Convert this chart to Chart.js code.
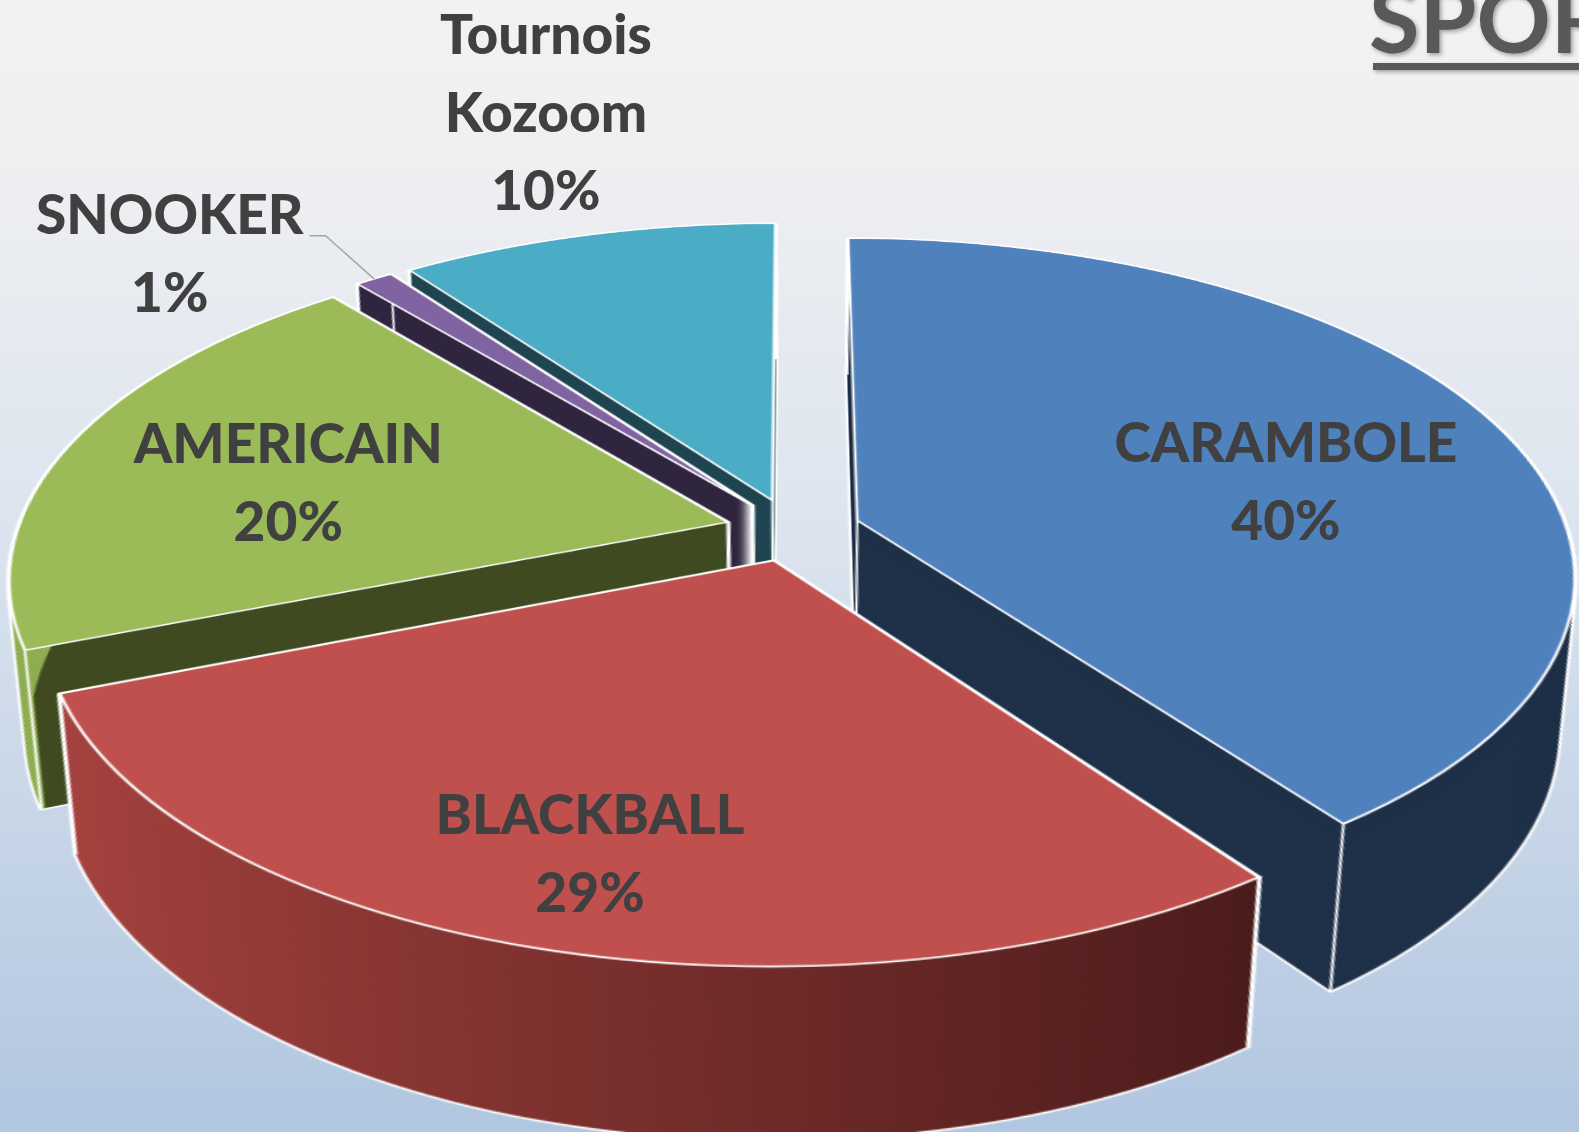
<!DOCTYPE html>
<html>
<head>
<meta charset="utf-8">
<script src="https://cdn.jsdelivr.net/npm/chart.js@4.4.1/dist/chart.umd.min.js"></script>
<style>
  html, body { margin: 0; padding: 0; width: 1579px; height: 1132px; overflow: hidden; }
  body {
    position: relative;
    background: linear-gradient(to bottom, #f2f2f2 0%, #f0f0f2 12%, #dde5ef 45%, #b1c6e0 100%);
  }
  #pie { position: absolute; left: 0; top: 0; transform-origin: 0 0; z-index: 1; }
  #labels { position: absolute; left: 0; top: 0; z-index: 2; pointer-events: none; }
</style>
</head>
<body>
<canvas id="pie" width="1000" height="1100"></canvas>
<canvas id="labels" width="1579" height="1132"></canvas>
<script>
// ---- data ----
const categories = ['CARAMBOLE', 'BLACKBALL', 'AMERICAIN', 'SNOOKER', 'Tournois\nKozoom'];
const shares = [40, 29, 20, 1, 10];
const title = 'SPORT';

// ---- look ----
const topColors  = ['#4f81bd', '#c0504d', '#9bbb59', '#8064a2', '#4bacc6'];
const sideColors = ['#1f3049', ['#a6433f', '#4a1b1b'], '#404b22', '#30253f', '#1e4550'];
const rimColors  = [null, null, '#8fae52', null, null];
const labelSpots = [
  { r: 0.63, turn: 7.5 },
  { r: 0.79, turn: 0 },
  { r: 0.645, turn: -4 },
  { r: 1.30, turn: -9.4, leader: true },
  { r: 1.54, turn: 2.7 }
];
const labelFont = '900 55px Lato, "Open Sans", sans-serif';

// tilted camera: screen = (x0, y0) + (ax*u, by*v) / (1 - k*v), u/v measured in pie radii
const VIEW = { x0: 793, y0: 530, ax: 710, by: 330, k: 0.16, foot: 4.89, wallScale: 0.912, explode: 0.0955, layers: 160 };

const midAngle = a => (a.startAngle + a.endAngle) / 2;

function project(u, v) {
  const w = 1 - VIEW.k * v;
  return [VIEW.x0 + VIEW.ax * u / w, VIEW.y0 + VIEW.by * v / w];
}

// draw an arc element with some options swapped
function drawAs(arc, ctx, opts) {
  const a = Object.create(arc);
  a.options = Object.assign({}, arc.options, opts);
  a.draw(ctx);
}

// perspective of the flat pie canvas onto the page
function placeView(chart) {
  const arc = chart.getDatasetMeta(0).data[0];
  const R = arc.outerRadius, px = arc.x, py = arc.y;
  const { x0, y0, ax, by, k } = VIEW;
  const h11 = ax / R, h12 = -x0 * k / R, h13 = x0 * (1 + k * py / R) - ax * px / R;
  const h22 = (by - y0 * k) / R, h23 = y0 * (1 + k * py / R) - by * py / R;
  const h32 = -k / R, h33 = 1 + k * py / R;
  chart.canvas.style.transform =
    `matrix3d(${h11},0,0,0,${h12},${h22},0,${h32},0,0,1,0,${h13},${h23},0,${h33})`;
}

function drawLabels(chart) {
  const cv = document.getElementById('labels');
  const ctx = cv.getContext('2d');
  ctx.clearRect(0, 0, cv.width, cv.height);

  // title, cut by the right edge
  ctx.save();
  ctx.fillStyle = '#595959';
  ctx.shadowColor = 'rgba(0,0,0,0.35)';
  ctx.shadowBlur = 4; ctx.shadowOffsetX = 2; ctx.shadowOffsetY = 2;
  ctx.font = 'bold 92px Lato, "Open Sans", sans-serif';
  ctx.textBaseline = 'alphabetic';
  ctx.fillText(title, 1369, 53);
  ctx.fillRect(1373, 63, 240, 7);
  ctx.restore();

  const arcs = chart.getDatasetMeta(0).data;
  ctx.font = labelFont;
  ctx.fillStyle = '#404040';
  ctx.textAlign = 'center';
  ctx.textBaseline = 'middle';
  const lineH = 78;
  arcs.forEach((arc, i) => {
    const m = midAngle(arc), spot = labelSpots[i];
    const a = m + spot.turn * Math.PI / 180;
    const eu = VIEW.explode * Math.cos(m), ev = VIEW.explode * Math.sin(m);
    const [lx, ly] = project(eu + spot.r * Math.cos(a), ev + spot.r * Math.sin(a));
    const lines = categories[i].split('\n').concat(shares[i] + '%');
    const y0 = ly - (lines.length - 1) * lineH / 2;
    lines.forEach((t, n) => ctx.fillText(t, lx, y0 + n * lineH));
    if (spot.leader) {
      const [tx, ty] = project(eu + Math.cos(m), ev + Math.sin(m));
      const sx = lx + ctx.measureText(lines[0]).width / 2 + 6, sy = y0 + 19;
      ctx.save();
      ctx.strokeStyle = '#a6a6a6'; ctx.lineWidth = 1.5;
      ctx.beginPath(); ctx.moveTo(sx, sy); ctx.lineTo(sx + 16, sy); ctx.lineTo(tx, ty); ctx.stroke();
      ctx.restore();
    }
  });
}

const pie3d = {
  id: 'pie3d',
  beforeDatasetsDraw(chart) {
    const ctx = chart.ctx;
    const arcs = chart.getDatasetMeta(0).data;
    const R = arcs[0].outerRadius, cx = arcs[0].x, cy = arcs[0].y;
    const fx = cx, fy = cy + VIEW.foot * R;   // lower planes shrink toward this point
    const N = VIEW.layers, s1 = VIEW.wallScale;
    const order = arcs.map((_, i) => i)
      .sort((i, j) => Math.sin(midAngle(arcs[i])) - Math.sin(midAngle(arcs[j])));

    const onLayer = (t, ox, oy, fn) => {
      const s = 1 - t * (1 - s1);
      ctx.save();
      ctx.translate(fx, fy); ctx.scale(s, s); ctx.translate(ox - fx, oy - fy);
      fn();
      ctx.restore();
    };

    order.forEach(i => {
      const arc = arcs[i], m = midAngle(arc);
      const ox = Math.cos(m) * VIEW.explode * R, oy = Math.sin(m) * VIEW.explode * R;
      let side = sideColors[i];
      if (Array.isArray(side)) {
        const g = ctx.createLinearGradient(cx - 0.95 * R, 0, cx + 0.62 * R, 0);
        g.addColorStop(0, side[0]); g.addColorStop(1, side[1]);
        side = g;
      }
      // white rim around the body, then the body itself
      for (let n = N; n >= 0; n--)
        onLayer(n / N, ox, oy, () => drawAs(arc, ctx, { backgroundColor: 'rgba(0,0,0,0)', borderColor: '#ffffff', borderWidth: 3.2, borderJoinStyle: 'round' }));
      for (let n = N; n >= 0; n--)
        onLayer(n / N, ox, oy, () => drawAs(arc, ctx, { backgroundColor: side, borderWidth: 0 }));
      if (rimColors[i]) {
        ctx.save();
        ctx.strokeStyle = rimColors[i]; ctx.lineWidth = 2;
        for (let n = N; n >= 0; n--)
          onLayer(n / N, ox, oy, () => { ctx.beginPath(); ctx.arc(arc.x, arc.y, R - 1, arc.startAngle, arc.endAngle); ctx.stroke(); });
        ctx.restore();
      }
      // vertical edges
      const ax = arc.x + ox, ay = arc.y + oy;
      ctx.save();
      ctx.strokeStyle = '#ffffff'; ctx.lineWidth = 1.3;
      [[ax, ay],
       [ax + R * Math.cos(arc.startAngle), ay + R * Math.sin(arc.startAngle)],
       [ax + R * Math.cos(arc.endAngle), ay + R * Math.sin(arc.endAngle)]].forEach(([x, y]) => {
        ctx.beginPath(); ctx.moveTo(x, y); ctx.lineTo(fx + s1 * (x - fx), fy + s1 * (y - fy)); ctx.stroke();
      });
      ctx.restore();
    });

    // top faces
    arcs.forEach(arc => {
      const m = midAngle(arc);
      ctx.save();
      ctx.translate(Math.cos(m) * VIEW.explode * R, Math.sin(m) * VIEW.explode * R);
      arc.draw(ctx);
      ctx.restore();
    });
    return false;
  },
  afterDraw(chart) {
    placeView(chart);
    drawLabels(chart);
  }
};

new Chart(document.getElementById('pie'), {
  type: 'pie',
  data: {
    labels: categories,
    datasets: [{
      data: shares,
      backgroundColor: topColors,
      borderColor: '#ffffff',
      borderWidth: 1.6,
      borderJoinStyle: 'miter'
    }]
  },
  options: {
    responsive: false,
    animation: false,
    devicePixelRatio: 2,
    radius: 400,
    events: [],
    layout: { padding: { bottom: 140 } },
    plugins: { legend: { display: false }, tooltip: { enabled: false } }
  },
  plugins: [pie3d]
});
</script>
</body>
</html>
